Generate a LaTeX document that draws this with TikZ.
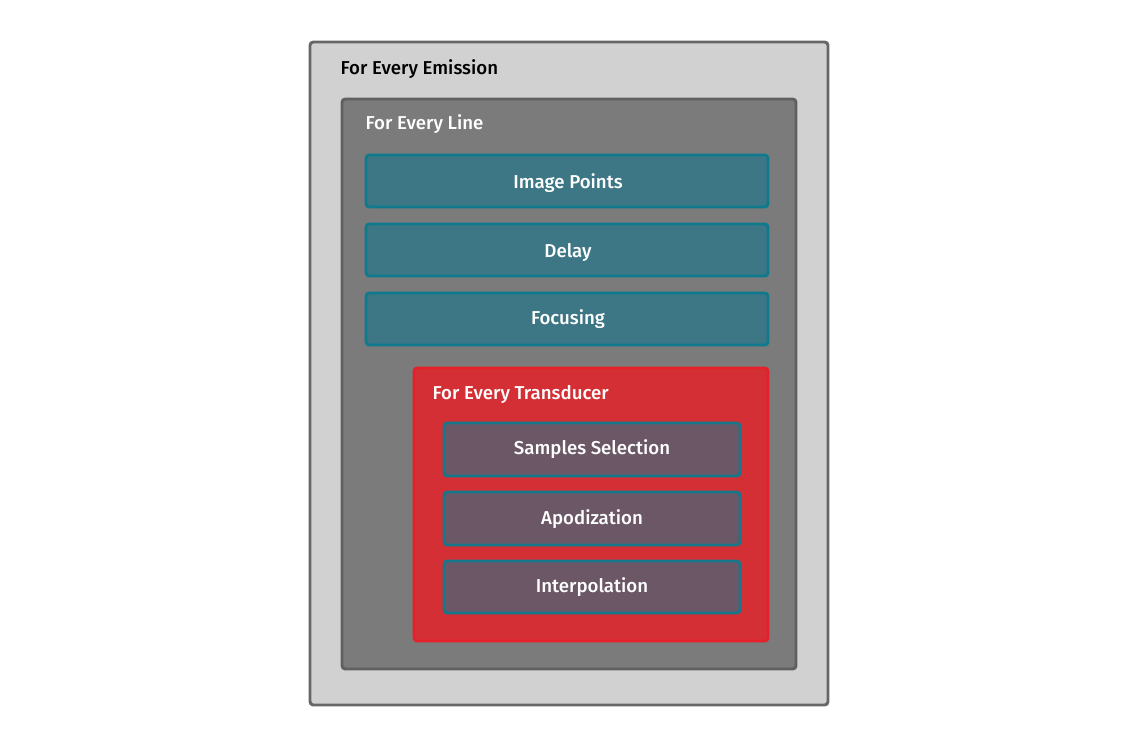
\documentclass[tikz,border=0pt]{standalone}
\usepackage{fontspec}
\setmainfont{Fira Sans}[UprightFont=* Medium]
\usetikzlibrary{positioning}
\definecolor{emisfill}{HTML}{D1D1D1}
\definecolor{emisdraw}{HTML}{666666}
\definecolor{linefill}{HTML}{7B7B7C}
\definecolor{linedraw}{HTML}{606060}
\definecolor{stepfill}{HTML}{3D7785}
\definecolor{stepdraw}{HTML}{0F7A8E}
\definecolor{transfill}{HTML}{D52F36}
\definecolor{transdraw}{HTML}{E4212B}
\definecolor{subfill}{HTML}{6B5766}
\definecolor{subdraw}{HTML}{17778A}
\tikzset{
  frame/.style={line width=2.2pt, rounded corners=2.5pt},
  stepbox/.style={frame, draw=stepdraw, fill=stepfill},
  subbox/.style={frame, draw=subdraw, fill=subfill},
  steplabel/.style={text=white, font=\fontsize{14}{16}\selectfont},
  looplabel/.style={anchor=west, font=\fontsize{14}{16}\selectfont}
}

\begin{document}
\begin{tikzpicture}[x=0.75pt,y=-0.75pt]
\useasboundingbox (0,0) rectangle (1138,747);
% outer loops
\draw[frame, draw=emisdraw, fill=emisfill] (310,42) rectangle (828,705);
\node[looplabel] (emission) at (336,69.5) {For Every Emission};
\draw[frame, draw=linedraw, fill=linefill] (342,99) rectangle (796,669);
\node[looplabel, text=white] (line) at (361,124.5) {For Every Line};
% per line steps
\draw[stepbox] (366,155) rectangle (768,207);
\node[steplabel] (points) at (568,183.5) {Image Points};
\draw[stepbox] (366,224) rectangle (768,276);
\node[steplabel] (delay) at (568,252.5) {Delay};
\draw[stepbox] (366,293) rectangle (768,345);
\node[steplabel] (focus) at (568,319.5) {Focusing};
% transducer loop
\draw[frame, draw=transdraw, fill=transfill] (414,368) rectangle (768,641);
\node[looplabel, text=white] (trans) at (428,394.5) {For Every Transducer};
\draw[subbox] (444,423) rectangle (740,476);
\node[steplabel] (select) at (592,449.5) {Samples Selection};
\draw[subbox] (444,492) rectangle (740,545);
\node[steplabel] (apod) at (592,519.5) {Apodization};
\draw[subbox] (444,561) rectangle (740,613);
\node[steplabel] (interp) at (592,587.5) {Interpolation};
\end{tikzpicture}
\end{document}
